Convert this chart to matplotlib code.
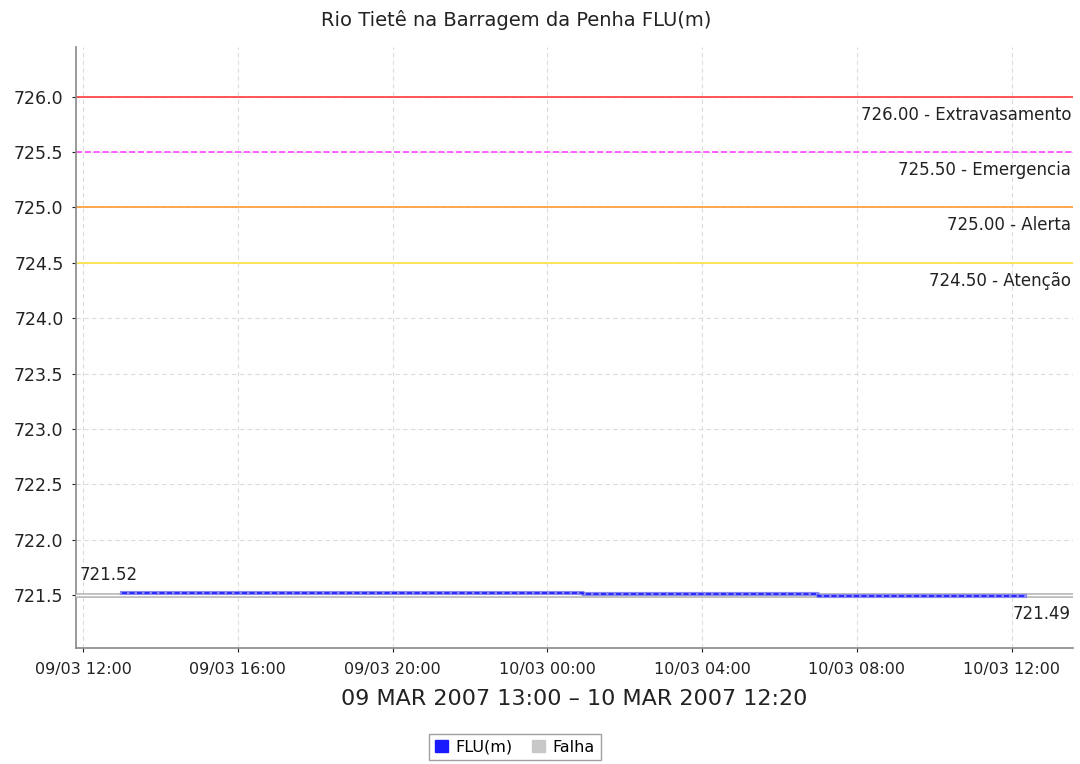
import matplotlib.pyplot as plt
import matplotlib.dates as mdates
from matplotlib.patches import Patch
import pandas as pd

plt.rcParams['font.family'] = ['DejaVu Sans']

# serie FLU(m) - pontos de mudança (degraus)
flu_times = pd.to_datetime(['2007-03-09 13:00', '2007-03-10 00:55',
                            '2007-03-10 07:00', '2007-03-10 12:20'])
flu_values = [721.52, 721.51, 721.49, 721.49]

# serie Falha
falha_times = pd.to_datetime(['2007-03-09 11:45', '2007-03-10 13:40'])
falha_values = [721.50, 721.50]

# cotas de referencia
ref_values = [726.00, 725.50, 725.00, 724.50]
ref_names = ['Extravasamento', 'Emergencia', 'Alerta', 'Atenção']
ref_colors = ['#ff3b3b', '#ff44ff', '#ff9933', '#ffe040']
ref_styles = ['-', '--', '-', '-']

fig = plt.figure(figsize=(10.8, 7.64), dpi=100)
# area do grafico: x 76..1073, y 47..648 (px)
ax = fig.add_axes([76 / 1080, 1 - 648 / 764, 997 / 1080, 601 / 764])

x0 = pd.Timestamp('2007-03-09 11:49')
x1 = pd.Timestamp('2007-03-10 13:35')
ax.set_xlim(x0, x1)
ax.set_ylim(721.02, 726.45)

# linhas de referencia
for v, name, c, ls in zip(ref_values, ref_names, ref_colors, ref_styles):
    ax.axhline(v, color=c, lw=1.2, ls=ls, zorder=2)
    ax.text(0.998, v - 0.08, f'{v:.2f} - {name}', transform=ax.get_yaxis_transform(),
            ha='right', va='top', fontsize=12, color='#222222')

# falha
ax.plot(falha_times, falha_values, color='#bbbbbb', lw=3.5, zorder=3)
ax.plot(falha_times, falha_values, color='white', lw=1.0, zorder=3)

# FLU(m)
ax.plot(flu_times, flu_values, drawstyle='steps-post', color='#8888ee', lw=3, zorder=4)
ax.plot(flu_times, flu_values, drawstyle='steps-post', color='#1a1aff', lw=1.2,
        ls=(0, (3, 1.5)), zorder=5)

ax.text(x0 + pd.Timedelta(minutes=5), flu_values[0] + 0.08, f'{flu_values[0]:.2f}',
        ha='left', va='bottom', fontsize=12, color='#222222')
ax.text(0.998, flu_values[-1] - 0.08, f'{flu_values[-1]:.2f}',
        transform=ax.get_yaxis_transform(), ha='right', va='top', fontsize=12, color='#222222')

# eixos
ax.set_yticks([721.5 + 0.5 * i for i in range(10)])
ax.yaxis.set_major_formatter(plt.FormatStrFormatter('%.1f'))
ax.xaxis.set_major_locator(mdates.HourLocator(byhour=[0, 4, 8, 12, 16, 20]))
ax.xaxis.set_major_formatter(mdates.DateFormatter('%d/%m %H:%M'))
ax.tick_params(labelsize=11.5, colors='#222222', length=3)
ax.tick_params(axis='x', pad=7)
ax.tick_params(axis='y', pad=6, labelsize=12.5)
ax.grid(True, color='#dcdcdc', ls=(0, (4, 3)), lw=0.8)
ax.set_axisbelow(True)
for side in ['top', 'right']:
    ax.spines[side].set_visible(False)
for side in ['left', 'bottom']:
    ax.spines[side].set_color('#888888')
    ax.spines[side].set_linewidth(1.2)

fig.text(0.4775, 1 - 20 / 764, 'Rio Tietê na Barragem da Penha FLU(m)',
         ha='center', va='center', fontsize=14, color='#222222')
fig.text(574 / 1080, 1 - 699 / 764, '09 MAR 2007 13:00 – 10 MAR 2007 12:20',
         ha='center', va='center', fontsize=16, color='#222222')

handles = [Patch(facecolor='#1a1aff', edgecolor='#1a1aff', label='FLU(m)'),
           Patch(facecolor='#c8c8c8', edgecolor='#c8c8c8', label='Falha')]
fig.legend(handles=handles, loc='center', bbox_to_anchor=(515 / 1080, 1 - 747 / 764), ncol=2,
           fontsize=11.5, frameon=True, fancybox=False, edgecolor='#888888',
           handlelength=0.8, handleheight=0.8, handletextpad=0.5, columnspacing=1.2,
           borderpad=0.35)

fig.savefig('out.png', dpi=100)
